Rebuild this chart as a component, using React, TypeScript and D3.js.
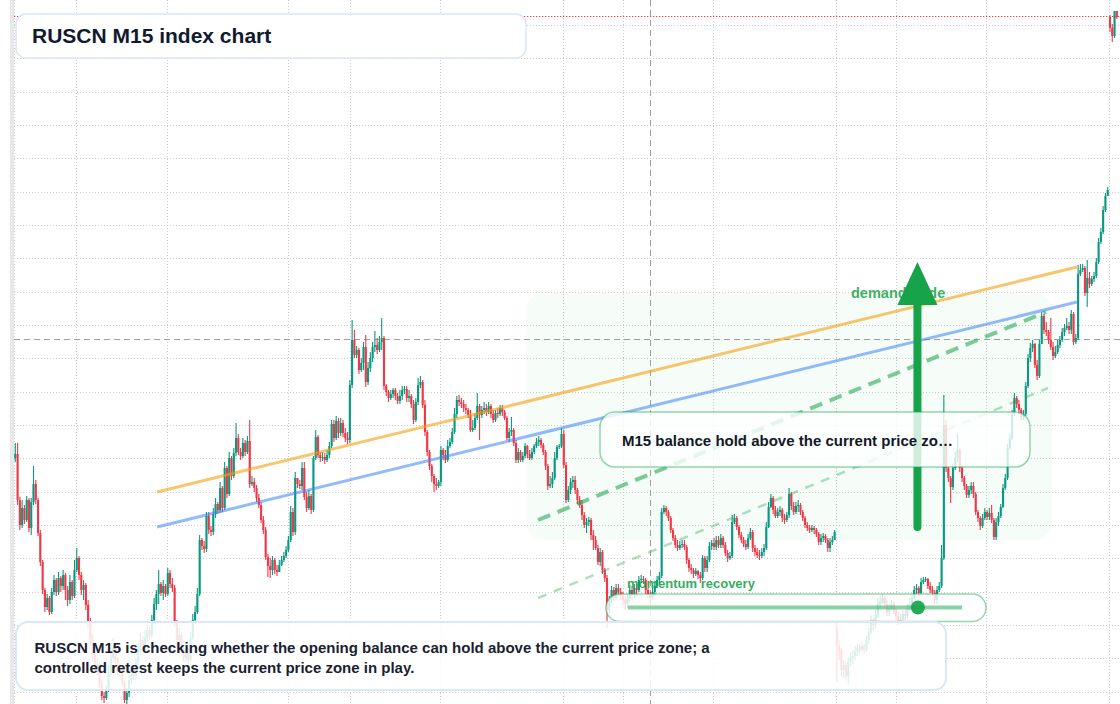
import React, { useEffect, useRef } from 'react';
import * as d3 from 'd3';

// RUSCN M15 bars (index points). open = previous close unless a session gap
const closes = [
  1246, 1200, 1175, 1192, 1180, 1200, 1172, 1198, 1216, 1200,
  1167, 1138, 1110, 1093, 1102, 1088, 1108, 1120, 1108, 1122,
  1114, 1125, 1110, 1100, 1118, 1104, 1130, 1142, 1125, 1110,
  1115, 1095, 1078, 1060, 1045, 1032, 1036, 1017, 1004, 1002,
  1010, 1028, 1042, 1052, 1040, 1028, 1032, 1018, 1000, 1007,
  1020, 1030, 1024, 1038, 1050, 1060, 1052, 1062, 1070, 1065,
  1080, 1096, 1106, 1116, 1107, 1114, 1106, 1127, 1116, 1112,
  1078, 1060, 1065, 1050, 1042, 1048, 1040, 1062, 1080, 1088,
  1106, 1160, 1154, 1151, 1184, 1170, 1168, 1186, 1196, 1190,
  1212, 1192, 1232, 1206, 1242, 1224, 1247, 1262, 1248, 1244,
  1257, 1248, 1259, 1216, 1218, 1212, 1202, 1195, 1180, 1170,
  1143, 1134, 1130, 1140, 1130, 1128, 1135, 1140, 1144, 1150,
  1160, 1188, 1168, 1222, 1216, 1214, 1232, 1203, 1192, 1204,
  1190, 1242, 1263, 1245, 1242, 1243, 1240, 1245, 1254, 1276,
  1262, 1279, 1267, 1277, 1267, 1262, 1260, 1315, 1360, 1345,
  1350, 1330, 1337, 1353, 1318, 1332, 1342, 1353, 1355, 1350,
  1358, 1362, 1314, 1308, 1302, 1306, 1310, 1304, 1299, 1304,
  1310, 1311, 1302, 1304, 1296, 1280, 1298, 1315, 1318, 1295,
  1268, 1248, 1234, 1224, 1216, 1214, 1218, 1250, 1245, 1240,
  1254, 1258, 1268, 1286, 1300, 1298, 1296, 1292, 1290, 1285,
  1270, 1272, 1282, 1294, 1285, 1290, 1292, 1288, 1294, 1286,
  1280, 1287, 1286, 1292, 1288, 1282, 1262, 1268, 1270, 1257,
  1240, 1248, 1240, 1244, 1254, 1246, 1242, 1248, 1254, 1258,
  1260, 1255, 1248, 1234, 1214, 1216, 1222, 1242, 1253, 1254,
  1266, 1235, 1200, 1210, 1218, 1220, 1210, 1200, 1195, 1185,
  1175, 1178, 1180, 1165, 1160, 1152, 1138, 1148, 1130, 1122,
  1090, 1100, 1110, 1102, 1112, 1108, 1104, 1100, 1096, 1102,
  1110, 1105, 1112, 1110, 1120, 1121, 1120, 1110, 1105, 1102,
  1108, 1114, 1120, 1124, 1188, 1192, 1188, 1182, 1170, 1162,
  1155, 1152, 1155, 1156, 1153, 1140, 1132, 1130, 1126, 1129,
  1125, 1122, 1142, 1132, 1140, 1154, 1157, 1153, 1160, 1155,
  1162, 1155, 1147, 1142, 1144, 1178, 1182, 1173, 1165, 1160,
  1156, 1153, 1162, 1168, 1152, 1148, 1145, 1144, 1148, 1152,
  1173, 1193, 1202, 1190, 1184, 1188, 1190, 1182, 1180, 1185,
  1206, 1194, 1188, 1194, 1195, 1188, 1182, 1175, 1172, 1170,
  1172, 1170, 1166, 1158, 1162, 1164, 1160, 1152, 1158, 1160,
  1168, 1054, 1050, 1030, 1035, 1024, 1038, 1042, 1044, 1048,
  1052, 1050, 1054, 1050, 1060, 1068, 1080, 1075, 1085, 1096,
  1098, 1102, 1096, 1088, 1092, 1096, 1090, 1084, 1078, 1080,
  1086, 1084, 1092, 1096, 1102, 1110, 1112, 1107, 1118, 1120,
  1121, 1114, 1110, 1107, 1100, 1110, 1114, 1142, 1275, 1232,
  1222, 1213, 1232, 1242, 1250, 1232, 1222, 1214, 1205, 1210,
  1214, 1206, 1188, 1182, 1174, 1182, 1188, 1183, 1187, 1180,
  1163, 1178, 1184, 1193, 1212, 1222, 1252, 1262, 1286, 1302,
  1296, 1290, 1283, 1286, 1314, 1342, 1352, 1356, 1335, 1324,
  1356, 1384, 1370, 1368, 1360, 1353, 1344, 1348, 1355, 1360,
  1368, 1372, 1374, 1370, 1386, 1358, 1362, 1426, 1430, 1432,
  1407, 1422, 1416, 1421, 1424, 1438, 1458, 1468, 1490, 1504,
  1510, 1672, 1664, 1689, 1683,
];

const highs = [
  1257, 1257, 1203, 1200, 1195, 1204, 1202, 1202, 1234, 1220,
  1202, 1170, 1140, 1112, 1106, 1104, 1112, 1125, 1122, 1128,
  1124, 1130, 1127, 1114, 1125, 1120, 1140, 1152, 1144, 1128,
  1120, 1117, 1100, 1082, 1065, 1048, 1042, 1038, 1020, 1008,
  1014, 1035, 1048, 1062, 1055, 1043, 1038, 1035, 1020, 1012,
  1025, 1036, 1034, 1042, 1057, 1067, 1064, 1070, 1075, 1073,
  1085, 1102, 1110, 1130, 1118, 1120, 1116, 1132, 1130, 1122,
  1115, 1080, 1072, 1068, 1055, 1052, 1052, 1068, 1086, 1094,
  1112, 1165, 1162, 1159, 1188, 1188, 1174, 1192, 1202, 1198,
  1218, 1214, 1238, 1234, 1248, 1244, 1252, 1277, 1266, 1252,
  1262, 1260, 1264, 1280, 1224, 1222, 1215, 1206, 1198, 1184,
  1173, 1146, 1142, 1144, 1142, 1135, 1140, 1144, 1148, 1154,
  1164, 1194, 1192, 1228, 1222, 1220, 1238, 1238, 1208, 1210,
  1206, 1244, 1270, 1265, 1248, 1248, 1247, 1250, 1258, 1280,
  1280, 1284, 1282, 1282, 1280, 1272, 1268, 1320, 1380, 1370,
  1354, 1352, 1342, 1358, 1365, 1338, 1348, 1358, 1369, 1362,
  1364, 1382, 1364, 1316, 1310, 1310, 1312, 1312, 1307, 1310,
  1314, 1314, 1314, 1310, 1306, 1300, 1302, 1322, 1324, 1320,
  1300, 1270, 1250, 1236, 1226, 1222, 1220, 1254, 1252, 1250,
  1260, 1262, 1272, 1292, 1304, 1305, 1302, 1300, 1296, 1292,
  1290, 1280, 1287, 1307, 1296, 1294, 1298, 1296, 1298, 1296,
  1290, 1290, 1292, 1295, 1295, 1290, 1284, 1272, 1283, 1272,
  1260, 1252, 1250, 1248, 1257, 1255, 1250, 1252, 1256, 1262,
  1264, 1262, 1257, 1250, 1236, 1224, 1228, 1248, 1255, 1256,
  1272, 1270, 1238, 1214, 1222, 1224, 1224, 1212, 1204, 1200,
  1188, 1182, 1183, 1182, 1170, 1164, 1155, 1152, 1150, 1132,
  1125, 1104, 1114, 1113, 1116, 1116, 1112, 1108, 1104, 1106,
  1115, 1114, 1116, 1116, 1124, 1125, 1124, 1122, 1112, 1108,
  1112, 1118, 1124, 1128, 1192, 1195, 1194, 1190, 1184, 1172,
  1165, 1160, 1159, 1160, 1160, 1155, 1142, 1136, 1132, 1132,
  1130, 1128, 1145, 1144, 1144, 1158, 1160, 1162, 1164, 1164,
  1166, 1164, 1158, 1150, 1148, 1185, 1186, 1184, 1175, 1168,
  1163, 1160, 1166, 1172, 1170, 1155, 1152, 1150, 1152, 1156,
  1178, 1198, 1206, 1204, 1194, 1192, 1194, 1192, 1186, 1188,
  1212, 1208, 1198, 1198, 1200, 1197, 1190, 1184, 1178, 1175,
  1175, 1174, 1172, 1168, 1166, 1167, 1166, 1162, 1162, 1164,
  1170, 1078, 1060, 1052, 1040, 1038, 1042, 1048, 1050, 1054,
  1056, 1056, 1058, 1056, 1064, 1072, 1085, 1082, 1090, 1102,
  1104, 1106, 1104, 1100, 1096, 1100, 1098, 1092, 1088, 1086,
  1090, 1090, 1096, 1102, 1106, 1114, 1116, 1114, 1122, 1123,
  1123, 1122, 1118, 1114, 1110, 1114, 1118, 1155, 1305, 1280,
  1234, 1224, 1236, 1248, 1266, 1252, 1234, 1224, 1216, 1214,
  1218, 1218, 1208, 1190, 1184, 1186, 1192, 1190, 1192, 1195,
  1182, 1182, 1188, 1196, 1216, 1226, 1256, 1266, 1290, 1307,
  1304, 1300, 1292, 1290, 1318, 1346, 1357, 1360, 1357, 1340,
  1360, 1388, 1386, 1378, 1370, 1382, 1358, 1354, 1360, 1364,
  1372, 1376, 1382, 1378, 1390, 1388, 1366, 1435, 1436, 1436,
  1434, 1440, 1428, 1424, 1428, 1442, 1462, 1472, 1494, 1507,
  1513, 1685, 1676, 1689, 1689,
];

const lows = [
  1238, 1195, 1170, 1172, 1176, 1178, 1168, 1165, 1195, 1196,
  1164, 1134, 1106, 1088, 1090, 1085, 1086, 1105, 1104, 1105,
  1108, 1110, 1100, 1094, 1096, 1100, 1102, 1128, 1120, 1105,
  1100, 1090, 1072, 1055, 1038, 1028, 1025, 1012, 1000, 997,
  1000, 1008, 1025, 1038, 1036, 1024, 1020, 1014, 997, 994,
  1003, 1016, 1020, 1020, 1034, 1045, 1048, 1050, 1058, 1060,
  1062, 1078, 1090, 1096, 1104, 1100, 1103, 1104, 1112, 1108,
  1074, 1055, 1052, 1045, 1038, 1038, 1036, 1038, 1060, 1076,
  1086, 1104, 1150, 1147, 1148, 1166, 1164, 1165, 1182, 1186,
  1187, 1188, 1190, 1202, 1204, 1220, 1222, 1244, 1245, 1240,
  1242, 1244, 1246, 1212, 1214, 1208, 1198, 1192, 1177, 1166,
  1140, 1123, 1122, 1125, 1126, 1124, 1128, 1134, 1138, 1142,
  1148, 1158, 1164, 1165, 1212, 1211, 1210, 1200, 1188, 1190,
  1186, 1188, 1240, 1242, 1238, 1239, 1236, 1238, 1242, 1252,
  1258, 1260, 1262, 1264, 1263, 1258, 1256, 1257, 1312, 1342,
  1342, 1326, 1328, 1330, 1313, 1315, 1328, 1338, 1348, 1346,
  1348, 1350, 1310, 1304, 1298, 1300, 1302, 1300, 1296, 1296,
  1300, 1306, 1298, 1298, 1292, 1276, 1278, 1295, 1312, 1292,
  1264, 1244, 1230, 1218, 1208, 1210, 1212, 1214, 1240, 1237,
  1238, 1252, 1256, 1266, 1282, 1294, 1292, 1288, 1286, 1282,
  1268, 1268, 1270, 1280, 1260, 1282, 1286, 1284, 1286, 1282,
  1277, 1278, 1282, 1284, 1284, 1280, 1260, 1258, 1264, 1254,
  1237, 1237, 1238, 1238, 1242, 1242, 1240, 1240, 1246, 1252,
  1254, 1252, 1245, 1230, 1210, 1212, 1212, 1220, 1240, 1251,
  1252, 1232, 1197, 1198, 1206, 1212, 1206, 1196, 1192, 1180,
  1172, 1167, 1174, 1160, 1150, 1150, 1135, 1134, 1126, 1118,
  1072, 1086, 1097, 1099, 1100, 1104, 1100, 1095, 1090, 1092,
  1098, 1100, 1102, 1104, 1108, 1117, 1116, 1106, 1102, 1098,
  1100, 1104, 1112, 1116, 1122, 1186, 1184, 1179, 1167, 1159,
  1152, 1149, 1150, 1152, 1150, 1136, 1128, 1126, 1122, 1124,
  1121, 1117, 1120, 1128, 1128, 1138, 1150, 1150, 1150, 1152,
  1152, 1152, 1144, 1138, 1140, 1142, 1176, 1170, 1162, 1157,
  1153, 1150, 1151, 1160, 1148, 1144, 1142, 1140, 1142, 1144,
  1150, 1172, 1192, 1186, 1182, 1182, 1184, 1178, 1176, 1178,
  1182, 1190, 1185, 1186, 1188, 1185, 1179, 1172, 1169, 1167,
  1168, 1166, 1163, 1155, 1155, 1158, 1157, 1148, 1148, 1155,
  1164, 1018, 1040, 1024, 1022, 1020, 1016, 1034, 1036, 1040,
  1044, 1046, 1048, 1046, 1048, 1056, 1066, 1070, 1072, 1082,
  1092, 1096, 1092, 1084, 1084, 1090, 1086, 1080, 1075, 1076,
  1078, 1080, 1082, 1090, 1094, 1100, 1106, 1104, 1106, 1116,
  1118, 1111, 1107, 1104, 1096, 1096, 1108, 1112, 1140, 1228,
  1218, 1197, 1210, 1230, 1238, 1228, 1218, 1210, 1202, 1202,
  1206, 1202, 1185, 1178, 1170, 1172, 1180, 1180, 1180, 1177,
  1160, 1160, 1174, 1182, 1192, 1210, 1220, 1250, 1260, 1284,
  1292, 1286, 1280, 1280, 1284, 1312, 1338, 1348, 1332, 1320,
  1322, 1356, 1366, 1364, 1356, 1350, 1340, 1342, 1346, 1352,
  1358, 1364, 1370, 1366, 1366, 1355, 1356, 1360, 1424, 1428,
  1404, 1393, 1412, 1414, 1418, 1422, 1436, 1456, 1466, 1488,
  1504, 1668, 1658, 1662, 1681,
];

const firstOpen = 1242;
// sessions that open with a gap
const sessionOpens: Record<number, number> = { 361: 1072, 481: 1683 };

// grid: price levels and session bar boundaries
const priceGrid = [
  1675, 1641.7, 1608.3, 1575, 1541.7, 1508.3, 1475, 1441.7, 1408.3, 1375, 1341.7,
  1308.3, 1275, 1241.7, 1208.3, 1175, 1141.7, 1108.3, 1075, 1041.7, 1008.3,
];
const timeGrid = [-0.5, 26.5, 66.5, 120, 147, 186.5, 240.5, 267, 306.5, 360.5, 387, 426.5, 480.5];

// drawing objects (bar index, price)
const crosshair = { bar: 278.7, price: 1361.5 };
const upperTrend = [[62.3, 1208], [466.5, 1433]];
const lowerTrend = [[62.3, 1173], [466.5, 1398]];
const channelTop = [[229.7, 1180], [452.9, 1388]];
const channelBottom = [[229.7, 1102], [453.8, 1312]];
const demandZone = { from: 224.4, to: 455.5, low: 1160, high: 1407 };
const impulse = { bar: 396.4, from: 1173, to: 1438 };
const recovery = { from: 269.2, to: 416, price: 1092.5, dot: 396.6 };

const FONT = '"Liberation Sans", Arial, Helvetica, sans-serif';
const UP = '#089981';
const DOWN = '#f23645';
const GREEN = '#16a34a';

const App = () => {
  const ref = useRef<SVGSVGElement>(null);

  useEffect(() => {
    const width = 1120;
    const height = 704;
    const svg = d3.select(ref.current);
    svg.selectAll('*').remove();

    const x = d3.scaleLinear().domain([0, closes.length - 1]).range([15.3, 1116.8]);
    const y = d3.scaleLinear().domain([996, 1700]).range([height, 0]);

    const candles = closes.map((c, i) => {
      const o = i === 0 ? firstOpen : sessionOpens[i] ?? closes[i - 1];
      return { i, o, c, h: Math.max(highs[i], o, c), l: Math.min(lows[i], o, c) };
    });

    svg.append('rect').attr('width', width).attr('height', height).attr('fill', '#ffffff');
    svg.append('rect').attr('x', 10).attr('y', 0).attr('width', 4).attr('height', height).attr('fill', '#e8e8e8');

    // grid
    const grid = svg.append('g').attr('stroke', '#cfcfcf').attr('stroke-width', 1).attr('stroke-dasharray', '1 2');
    grid
      .selectAll('line.h')
      .data(priceGrid)
      .join('line')
      .attr('x1', 14)
      .attr('x2', width)
      .attr('y1', (d) => Math.round(y(d)) + 0.5)
      .attr('y2', (d) => Math.round(y(d)) + 0.5);
    grid
      .selectAll('line.v')
      .data(timeGrid)
      .join('line')
      .attr('x1', (d) => Math.round(x(d)) + 0.5)
      .attr('x2', (d) => Math.round(x(d)) + 0.5)
      .attr('y1', 0)
      .attr('y2', height);

    // demand zone
    svg
      .append('rect')
      .attr('x', x(demandZone.from))
      .attr('y', y(demandZone.high))
      .attr('width', x(demandZone.to) - x(demandZone.from))
      .attr('height', y(demandZone.low) - y(demandZone.high))
      .attr('rx', 18)
      .attr('fill', '#22c55e')
      .attr('fill-opacity', 0.04);

    // crosshair
    const cross = svg.append('g').attr('stroke', '#9e9e9e').attr('stroke-width', 1).attr('stroke-dasharray', '6 4');
    cross
      .append('line')
      .attr('x1', Math.round(x(crosshair.bar)) + 0.5)
      .attr('x2', Math.round(x(crosshair.bar)) + 0.5)
      .attr('y1', 0)
      .attr('y2', height);
    cross
      .append('line')
      .attr('x1', 14)
      .attr('x2', width)
      .attr('y1', Math.round(y(crosshair.price)) + 0.5)
      .attr('y2', Math.round(y(crosshair.price)) + 0.5);

    // candles
    const cg = svg.append('g');
    cg.selectAll('line')
      .data(candles)
      .join('line')
      .attr('x1', (d) => x(d.i))
      .attr('x2', (d) => x(d.i))
      .attr('y1', (d) => y(d.h))
      .attr('y2', (d) => y(d.l))
      .attr('stroke', (d) => (d.c >= d.o ? UP : DOWN))
      .attr('stroke-width', 1.1);
    cg.selectAll('rect')
      .data(candles)
      .join('rect')
      .attr('x', (d) => x(d.i) - 1.05)
      .attr('width', 2.1)
      .attr('y', (d) => y(Math.max(d.o, d.c)))
      .attr('height', (d) => Math.max(1, Math.abs(y(d.o) - y(d.c))))
      .attr('fill', (d) => (d.c >= d.o ? UP : DOWN));

    // trend lines
    const seg = (pts: number[][], color: string, w: number, op: number, dash?: string) => {
      const l = svg
        .append('line')
        .attr('x1', x(pts[0][0]))
        .attr('y1', y(pts[0][1]))
        .attr('x2', x(pts[1][0]))
        .attr('y2', y(pts[1][1]))
        .attr('stroke', color)
        .attr('stroke-width', w)
        .attr('stroke-opacity', op);
      if (dash) l.attr('stroke-dasharray', dash);
    };
    seg(upperTrend, '#f59e0b', 3, 0.6);
    seg(lowerTrend, '#3b82f6', 3, 0.55);
    seg(channelTop, GREEN, 4, 0.55, '13 8');
    seg(channelBottom, GREEN, 2.5, 0.35, '9 8');

    svg
      .append('text')
      .attr('x', 851)
      .attr('y', 298)
      .attr('font-family', FONT)
      .attr('font-weight', 700)
      .attr('font-size', 14.5)
      .attr('fill', GREEN)
      .attr('fill-opacity', 0.85)
      .text('demand node');

    // impulse arrow
    const ax = x(impulse.bar);
    const tip = y(impulse.to);
    const headLen = 43;
    svg
      .append('line')
      .attr('x1', ax)
      .attr('x2', ax)
      .attr('y1', y(impulse.from))
      .attr('y2', tip + headLen - 2)
      .attr('stroke', GREEN)
      .attr('stroke-width', 8)
      .attr('stroke-linecap', 'round');
    svg
      .append('path')
      .attr('d', `M${ax},${tip} L${ax + 20},${tip + headLen} L${ax - 20},${tip + headLen} Z`)
      .attr('fill', GREEN);

    // last price
    const last = candles[candles.length - 1];
    svg
      .append('line')
      .attr('x1', 14)
      .attr('x2', width)
      .attr('y1', Math.round(y(last.c)) - 0.5)
      .attr('y2', Math.round(y(last.c)) - 0.5)
      .attr('stroke', DOWN)
      .attr('stroke-width', 1)
      .attr('stroke-dasharray', '1.3 1.7');

    const box = (bx: number, by: number, bw: number, bh: number, r: number, stroke: string, sop: number, fop: number) =>
      svg
        .append('rect')
        .attr('x', bx)
        .attr('y', by)
        .attr('width', bw)
        .attr('height', bh)
        .attr('rx', r)
        .attr('fill', '#ffffff')
        .attr('fill-opacity', fop)
        .attr('stroke', stroke)
        .attr('stroke-opacity', sop)
        .attr('stroke-width', 1.5);

    // M15 callout
    box(600, 412, 430, 55, 15, GREEN, 0.45, 0.8);
    svg
      .append('text')
      .attr('x', 622)
      .attr('y', 446)
      .attr('font-family', FONT)
      .attr('font-weight', 700)
      .attr('font-size', 15)
      .attr('fill', '#111827')
      .text('M15 balance hold above the current price zo…');

    // momentum recovery
    svg
      .append('text')
      .attr('x', 627)
      .attr('y', 587.5)
      .attr('font-family', FONT)
      .attr('font-weight', 700)
      .attr('font-size', 13)
      .attr('fill', GREEN)
      .attr('fill-opacity', 0.9)
      .text('momentum recovery');
    box(606, 594, 380, 27.5, 13.5, GREEN, 0.45, 0.8);
    svg
      .append('line')
      .attr('x1', x(recovery.from))
      .attr('x2', x(recovery.to))
      .attr('y1', y(recovery.price))
      .attr('y2', y(recovery.price))
      .attr('stroke', GREEN)
      .attr('stroke-opacity', 0.5)
      .attr('stroke-width', 4);
    svg
      .append('circle')
      .attr('cx', x(recovery.dot))
      .attr('cy', y(recovery.price))
      .attr('r', 7)
      .attr('fill', GREEN)
      .attr('fill-opacity', 0.92);

    // commentary
    box(16, 622, 930, 68, 12, '#dbe6f7', 1, 0.85).attr('stroke-width', 2);
    const note = svg
      .append('text')
      .attr('font-family', FONT)
      .attr('font-weight', 700)
      .attr('font-size', 15)
      .attr('fill', '#1a2130');
    note
      .append('tspan')
      .attr('x', 34.5)
      .attr('y', 653.3)
      .text('RUSCN M15 is checking whether the opening balance can hold above the current price zone; a');
    note.append('tspan').attr('x', 34.5).attr('y', 673.3).text('controlled retest keeps the current price zone in play.');

    // title
    box(16, 14, 510, 44, 10, '#dbe6f7', 1, 1);
    svg
      .append('text')
      .attr('x', 32)
      .attr('y', 43.3)
      .attr('font-family', FONT)
      .attr('font-weight', 700)
      .attr('font-size', 21)
      .attr('fill', '#111a2e')
      .text('RUSCN M15 index chart');
  }, []);

  return (
    <svg
      ref={ref}
      width={1120}
      height={704}
      style={{ position: 'absolute', left: 0, top: 0, display: 'block' }}
    />
  );
};

export default App;
